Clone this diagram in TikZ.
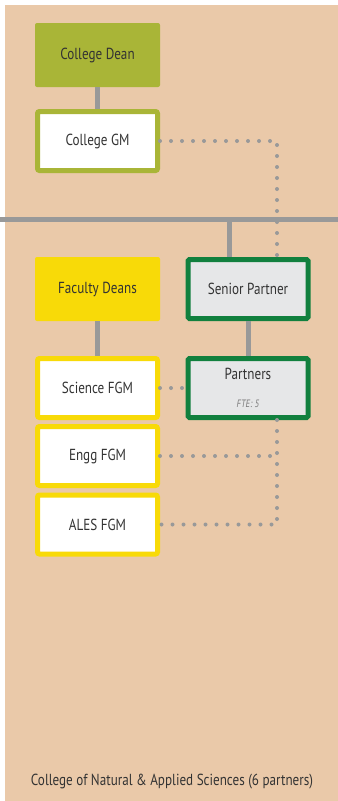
\documentclass[tikz,border=0pt]{standalone}
\usepackage{fontspec}
\setmainfont{PT Sans}[FakeStretch=0.82]
\usepackage{xcolor}
\usepackage{tikz}
\definecolor{collegeolive}{RGB}{169,181,55}
\definecolor{facultyyellow}{RGB}{248,218,8}
\definecolor{partnergreen}{RGB}{17,128,62}
\definecolor{partnerfill}{RGB}{230,231,232}
\definecolor{chartbg}{RGB}{234,201,169}
\definecolor{linkgray}{RGB}{153,153,153}
\definecolor{textdark}{RGB}{51,51,51}

\tikzset{
  box/.style={minimum width=93.75pt, minimum height=48pt, inner sep=0pt, rounded corners=1.5pt, text=textdark, font=\fontsize{12}{14}\selectfont},
  filledbox/.style={box, fill=#1},
  ringbox/.style={box, draw=#1, fill=white, line width=3.75pt, minimum width=90pt, minimum height=44.25pt},
  partnerbox/.style={ringbox=partnergreen, fill=partnerfill, rounded corners=1pt},
  solidlink/.style={draw=linkgray, line width=3.75pt},
  dotlink/.style={draw=linkgray, line width=3pt, line cap=round, dash pattern=on 0pt off 8.25pt}
}

\begin{document}
\begin{tikzpicture}[x=0.75pt, y=-0.75pt]
\useasboundingbox (0,0) rectangle (338,801);
\fill[chartbg] (5,5) rectangle (338,801);

% college level
\node[filledbox=collegeolive] (dean) at (97.5,55) {College Dean};
\node[ringbox=collegeolive] (gm) at (97.5,141) {College GM};

% faculty level
\node[filledbox=facultyyellow] (fdeans) at (97.5,289) {Faculty Deans};
\node[ringbox=facultyyellow] (sfgm) at (97.5,388) {Science FGM};
\node[ringbox=facultyyellow] (efgm) at (97.5,456) {Engg FGM};
\node[ringbox=facultyyellow] (afgm) at (97.5,524.5) {ALES FGM};

% partners
\node[partnerbox] (senior) at (248,289) {Senior Partner};
\node[partnerbox, align=center] (partners) at (248,388) {Partners\\[7pt]{\fontsize{8}{9}\selectfont\itshape\color{linkgray!80!black}FTE: 5}};

\node[text=textdark, font=\fontsize{12}{14}\selectfont] (caption) at (172,782) {College of Natural \& Applied Sciences (6 partners)};

\coordinate (barL) at (0,219);
\coordinate (barR) at (338,219);
\coordinate (barT) at (229,219);
\coordinate (dotx) at (277,0);

% solid lines
\draw[solidlink] (barL) -- (barR);
\draw[solidlink] (dean) -- (gm);
\draw[solidlink] (barT) -- (barT |- senior.north);
\draw[solidlink] (fdeans) -- (sfgm);
\draw[solidlink] (senior) -- (partners);

% dotted lines
\draw[dotlink] (gm.east) -| (dotx |- senior.north);
\draw[dotlink] (sfgm.east) -- (partners.west);
\draw[dotlink] (dotx |- partners.south) |- (afgm.east);
\draw[dotlink] (efgm.east) -- (dotx |- efgm.east);
\end{tikzpicture}
\end{document}
